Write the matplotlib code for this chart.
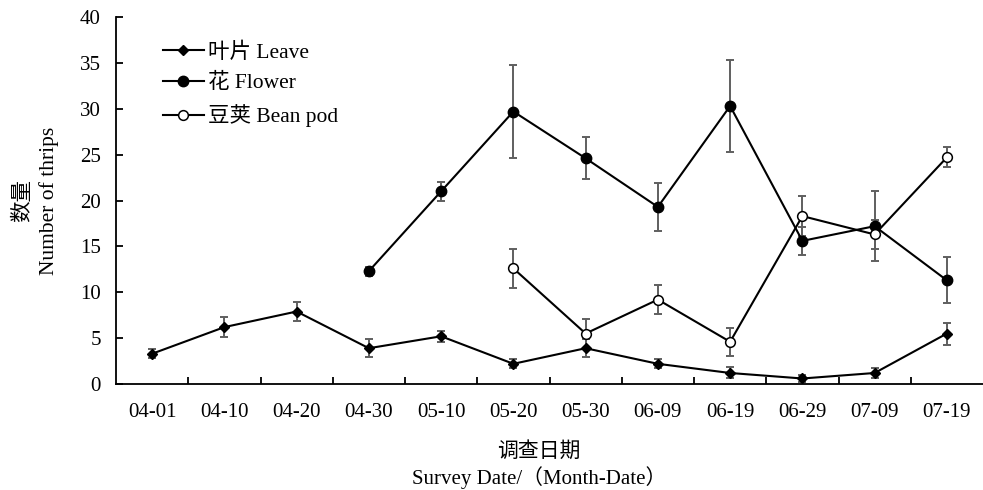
import numpy as np
import matplotlib
matplotlib.use("Agg")
import matplotlib.pyplot as plt
from matplotlib.ticker import FixedLocator

plt.rcParams['font.family'] = ['Liberation Serif', 'Noto Sans CJK SC']
plt.rcParams['axes.unicode_minus'] = False

# -------------------- data --------------------
dates = ['04-01', '04-10', '04-20', '04-30', '05-10', '05-20',
         '05-30', '06-09', '06-19', '06-29', '07-09', '07-19']

leave = [3.3, 6.2, 7.9, 3.9, 5.2, 2.2, 3.9, 2.2, 1.2, 0.6, 1.2, 5.5]
leave_err = [0.5, 1.1, 1.0, 1.0, 0.6, 0.5, 1.0, 0.5, 0.6, 0.4, 0.5, 1.2]

flower = [np.nan, np.nan, np.nan, 12.3, 21.0, 29.7, 24.6, 19.3, 30.3, 15.6, 17.2, 11.3]
flower_err = [np.nan, np.nan, np.nan, 0.5, 1.0, 5.1, 2.3, 2.6, 5.05, 1.5, 3.8, 2.5]

pod = [np.nan, np.nan, np.nan, np.nan, np.nan, 12.6, 5.5, 9.2, 4.6, 18.3, 16.3, 24.7]
pod_err = [np.nan, np.nan, np.nan, np.nan, np.nan, 2.1, 1.55, 1.55, 1.5, 2.2, 1.6, 1.1]

# -------------------- plot --------------------
fig = plt.figure(figsize=(9.83, 4.9), dpi=100)
ax = fig.add_axes([116 / 983, 1 - 384 / 490, 1 - 116 / 983, (384 - 17) / 490])

x = np.arange(len(dates))
err_kw = dict(fmt='none', ecolor='#5f5f5f', elinewidth=1.4, capsize=3.2, capthick=1.4)
ax.errorbar(x, leave, yerr=leave_err, **err_kw)
ax.errorbar(x, flower, yerr=flower_err, **err_kw)
ax.errorbar(x, pod, yerr=pod_err, **err_kw)

ax.plot(x, leave, color='black', lw=1.5, marker='D', ms=5.5, mfc='black',
        label='叶片 Leave')
ax.plot(x, flower, color='black', lw=1.5, marker='o', ms=7.5, mfc='black',
        label='花 Flower')
ax.plot(x, pod, color='black', lw=1.5, marker='o', ms=7, mfc='white', mew=1.1,
        label='豆荚 Bean pod')

ax.set_xlim(-0.5, len(dates) - 0.5)
ax.set_ylim(0, 40)
ax.set_yticks(np.arange(0, 41, 5))

ax.set_xticks(x)
ax.set_xticklabels(dates)
ax.xaxis.set_minor_locator(FixedLocator(np.arange(0.5, len(dates) - 0.5, 1)))
ax.tick_params(axis='x', which='major', length=0, pad=14, labelsize=15)
ax.tick_params(axis='x', which='minor', direction='in', length=5, width=1.3)
ax.tick_params(axis='y', direction='in', length=5, width=1.3, pad=11, labelsize=15)

for side in ['top', 'right']:
    ax.spines[side].set_visible(False)
for side in ['left', 'bottom']:
    ax.spines[side].set_linewidth(1.3)

ax.legend(loc='upper left', bbox_to_anchor=(0.044, 0.955), frameon=False,
          fontsize=15.5, handlelength=1.9, handletextpad=0.2, labelspacing=0.5,
          borderaxespad=0)

ax.set_ylabel('数量\nNumber of thrips', fontsize=15.5, labelpad=15, linespacing=1.4)
fig.text(539 / 983, 1 - 452 / 490, '调查日期', ha='center', va='center', fontsize=15)
fig.text(539 / 983, 1 - 478 / 490, 'Survey Date/（Month-Date）', ha='center',
         va='center', fontsize=15)

fig.savefig('out.png', dpi=100)
